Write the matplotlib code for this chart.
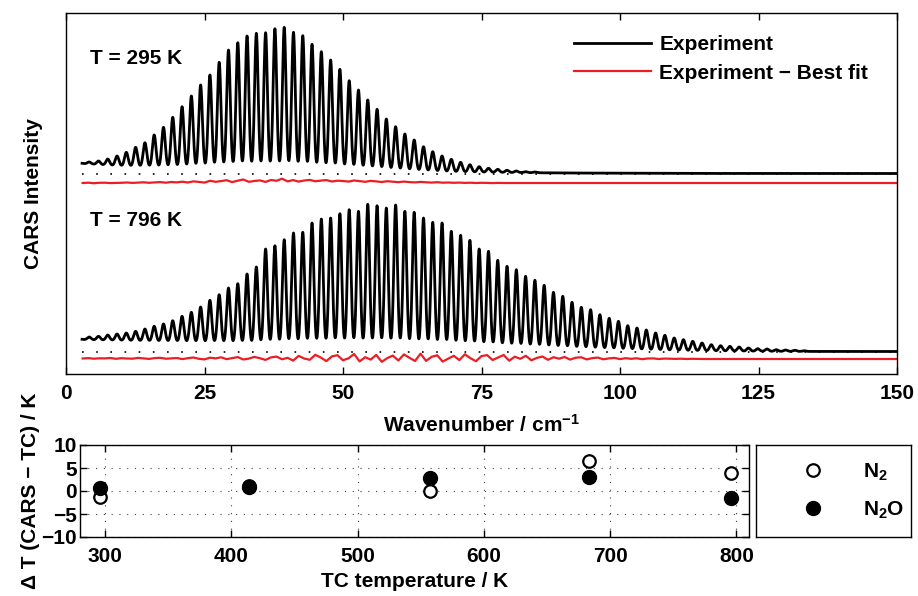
import matplotlib
matplotlib.use("Agg")
import matplotlib.pyplot as plt
import numpy as np

plt.rcParams["font.family"] = ["Liberation Sans", "DejaVu Sans"]
plt.rcParams["font.weight"] = "bold"
plt.rcParams["axes.labelweight"] = "bold"
plt.rcParams["font.size"] = 15
plt.rcParams["mathtext.fontset"] = "custom"
plt.rcParams["mathtext.rm"] = "Liberation Sans:bold"
plt.rcParams["mathtext.bf"] = "Liberation Sans:bold"
plt.rcParams["mathtext.it"] = "Liberation Sans:bold"
plt.rcParams["mathtext.default"] = "bf"
plt.rcParams["axes.linewidth"] = 1.0

# N2O S-branch line positions / cm-1 (J = 0 ... 78)
line_pos = [2.51, 4.19, 5.87, 7.54, 9.22, 10.89, 12.57, 14.25, 15.92, 17.60,
            19.27, 20.95, 22.63, 24.30, 25.98, 27.65, 29.33, 31.01, 32.68, 34.36,
            36.03, 37.71, 39.39, 41.06, 42.74, 44.41, 46.09, 47.77, 49.44, 51.12,
            52.79, 54.47, 56.15, 57.82, 59.50, 61.17, 62.85, 64.53, 66.20, 67.88,
            69.55, 71.23, 72.91, 74.58, 76.26, 77.93, 79.61, 81.29, 82.96, 84.64,
            86.31, 87.99, 89.67, 91.34, 93.02, 94.69, 96.37, 98.05, 99.72, 101.40,
            103.07, 104.75, 106.43, 108.10, 109.78, 111.45, 113.13, 114.81, 116.48, 118.16,
            119.83, 121.51, 123.19, 124.86, 126.54, 128.21, 129.89, 131.57, 133.24]

# peak tops above the zero line (a.u.)
peaks_295 = [11, 12.0, 13.0, 15.0, 18.0, 21.7, 26.7, 31.3, 39.0, 46.7,
             56.7, 67.3, 78.0, 89.0, 99.0, 111.7, 124.0, 131.3, 138.0, 140.7,
             141.3, 145.3, 146.7, 141.7, 138.3, 129.7, 122.3, 114.0, 104.7, 93.3,
             84.0, 74.0, 64.7, 55.0, 47.3, 40.0, 34.0, 27.3, 22.3, 18.0,
             14.7, 11.7, 9.3, 7.3, 5.7, 4.7, 3.7, 3.0, 2.3, 2.0]
peaks_796 = [13, 15.0, 15.7, 17.0, 18.0, 19.0, 20.7, 23.0, 25.7, 28.0,
             31.3, 35.7, 39.7, 45.0, 51.7, 57.3, 64.0, 68.3, 78.0, 85.0,
             103.0, 106.3, 112.3, 119.0, 119.7, 129.0, 133.0, 134.0, 138.3, 142.3,
             140.7, 147.7, 146.3, 144.0, 147.0, 140.7, 139.7, 134.0, 129.7, 129.0,
             120.7, 116.7, 111.7, 103.0, 100.7, 91.7, 85.7, 82.3, 75.7, 71.7,
             66.7, 59.7, 55.7, 49.7, 44.7, 42.3, 37.3, 33.7, 30.7, 26.3,
             24.0, 22.0, 19.0, 16.7, 14.0, 12.3, 10.7, 9.0, 7.3, 6.3,
             5.7, 5.0, 4.0, 3.3, 3.0, 2.3, 2.0, 1.7, 1.3]

# level between the lines (non-resonant background)
floor_x = [3, 10, 20, 35, 55, 70, 90, 110, 130, 150]
floor_295 = [10.5, 8.0, 6.0, 4.0, 4.0, 2.0, 1.0, 0.6, 0.5, 0.5]
floor_796 = [12.5, 11.5, 10.0, 6.5, 5.0, 4.5, 3.0, 1.2, 0.6, 0.5]

# residual (experiment - best fit), sampled every 1 cm-1 from 3 cm-1
resid_295 = [0.0, 0.3, -0.2, 0.2, 0.3, -0.1, 0.1, 0.2,
             0.5, 0.1, 0.4, 0.7, 0.2, 0.6, 0.9, 0.3, 1.0, 0.6,
             1.3, 0.5, 1.6, 1.1, 0.4, 2.2, 1.2, 1.9, 2.8, 0.9,
             2.3, 3.5, 1.2, 2.0, 2.6, 1.1, 3.0, 2.2, 4.3, 1.6,
             2.9, 1.4, 2.5, 3.1, 1.7, 2.4, 2.9, 1.5, 2.3, 2.0,
             1.4, 2.5, 1.9, 1.2, 2.1, 1.6, 1.0, 1.8, 1.3, 0.8,
             1.4, 0.9, 0.6, 1.1, 0.7, 0.4, 0.8, 0.3, 0.5, 0.2,
             0.4, 0.1, 0.3, 0.0, 0.2, 0.1, -0.1, 0.1, 0.0, 0.0]
resid_796 = [0.5, 0.9, 0.3, 0.7, 0.6, 1.0, 0.2, 0.8,
             0.5, 0.3, 1.1, 0.6, 0.1, 0.9, 1.2, 0.3, 0.6, 1.0,
             -0.1, 0.8, 1.5, 0.2, -0.4, 1.3, 0.6, 1.7, -0.2, 0.9,
             1.9, -0.5, 0.4, 2.1, 0.8, -0.9, 1.6, 2.4, -0.3, 1.2,
             -1.6, 3.1, 0.5, -0.8, 4.2, 1.4, -2.1, 2.6, 3.8, -1.3,
             0.7, 5.0, -2.4, 1.8, -0.6, 4.1, -2.8, 0.9, 3.4, -1.5,
             4.6, 1.2, -2.0, 5.3, -1.9, 2.2, 3.7, -2.6, 0.4, 3.2,
             -1.1, 4.7, 0.8, -2.2, 2.9, 3.9, -1.0, 1.5, 4.0, -1.7,
             2.3, 0.2, 3.2, -1.3, 1.1, 2.5, -0.8, 1.8, 0.3, 2.0,
             -0.6, 1.3, 1.7, -0.4, 0.9, 1.4, -0.3, 0.6, 1.1, -0.1,
             0.8, 0.2, 0.7, -0.2, 0.5, 0.6, 0.0, 0.4, 0.3, 0.1,
             0.3, 0.0, 0.2, 0.1, 0.0]

# vertical offsets of the stacked traces
off_295, off_fit_295 = 200, 191
off_796, off_fit_796 = 22, 15

# thermocouple comparison
tc_n2 = [296, 414, 557, 683, 796]
dt_n2 = [-1.2, 1.0, 0.0, 6.6, 3.9]
tc_n2o = [296, 414, 557, 683, 796]
dt_n2o = [0.6, 0.9, 2.8, 3.1, -1.6]

wn = np.arange(2.9, 150.001, 0.02)
width = 0.32


def spectrum(tops, floor):
    y = np.interp(wn, floor_x, floor)
    for pos, top in zip(line_pos, tops):
        amp = max(top - np.interp(pos, floor_x, floor), 0)
        y = y + amp * np.exp(-0.5 * ((wn - pos) / width) ** 2)
    return y


def residual(vals):
    x = np.concatenate([3 + np.arange(len(vals)), [150]])
    return x, np.concatenate([vals, [0]])


fig = plt.figure(figsize=(9.18, 5.96), dpi=100)
ax = fig.add_axes([66 / 918, 222 / 596, 831 / 918, 361 / 596])

for off, off_fit, tops, floor, res in [(off_295, off_fit_295, peaks_295, floor_295, resid_295),
                                       (off_796, off_fit_796, peaks_796, floor_796, resid_796)]:
    ax.hlines(off, wn[0], wn[-1], colors="k", linestyles=(0, (1, 7.5)), lw=1.2)
    l1, = ax.plot(wn, off + spectrum(tops, floor), color="k", lw=2.0)
    rx, ry = residual(res)
    l2, = ax.plot(rx, off_fit + ry, color="#ee1c24", lw=1.6)

ax.set_xlim(0, 150)
ax.set_ylim(0, 361)
ax.set_xticks([0, 25, 50, 75, 100, 125, 150])
ax.set_yticks([])
ax.tick_params(direction="in", top=True, length=5, width=1, pad=7)
ax.set_xlabel("Wavenumber / cm$^{-1}$")
ax.xaxis.set_label_coords(0.5, -0.11)
ax.set_ylabel("CARS Intensity")
ax.yaxis.set_label_coords(-0.028, 0.5)
ax.text(4.3, 310, "T = 295 K")
ax.text(4.3, 148, "T = 796 K")
ax.legend([l1, l2], ["Experiment", "Experiment \u2212 Best fit"],
          loc="upper left", bbox_to_anchor=(0.611, 0.938), frameon=False,
          borderpad=0, borderaxespad=0, handlelength=3.7,
          handletextpad=0.4, labelspacing=0.45)

ax2 = fig.add_axes([80 / 918, 59 / 596, 669 / 918, 92 / 596])
h1, = ax2.plot(tc_n2, dt_n2, "o", mfc="white", mec="k", mew=1.6, ms=9)
h2, = ax2.plot(tc_n2o, dt_n2o, "o", color="k", ms=10)
ax2.set_xlim(280, 810)
ax2.set_ylim(-10, 10)
ax2.set_xticks([300, 400, 500, 600, 700, 800])
ax2.set_yticks([-10, -5, 0, 5, 10])
ax2.grid(True, linestyle=(0, (1, 6)), color="0.25", lw=0.8)
ax2.tick_params(direction="in", top=True, right=True, length=5, width=1)
ax2.tick_params(axis="x", pad=7)
ax2.tick_params(axis="y", pad=2)
ax2.set_xlabel("TC temperature / K")
ax2.xaxis.set_label_coords(0.5, -0.38)
ax2.set_ylabel("\u0394 T (CARS \u2212 TC) / K")
ax2.yaxis.set_label_coords(-0.06, 0.5)

axl = fig.add_axes([756 / 918, 59 / 596, 155 / 918, 92 / 596])
axl.set_xticks([])
axl.set_yticks([])
axl.legend([h1, h2], ["N$_2$", "N$_2$O"], loc="center left",
           bbox_to_anchor=(0.3, 0.5), frameon=False, borderpad=0,
           borderaxespad=0, handlelength=1, handletextpad=1.9,
           labelspacing=0.8)

fig.savefig("out.png", dpi=100)
